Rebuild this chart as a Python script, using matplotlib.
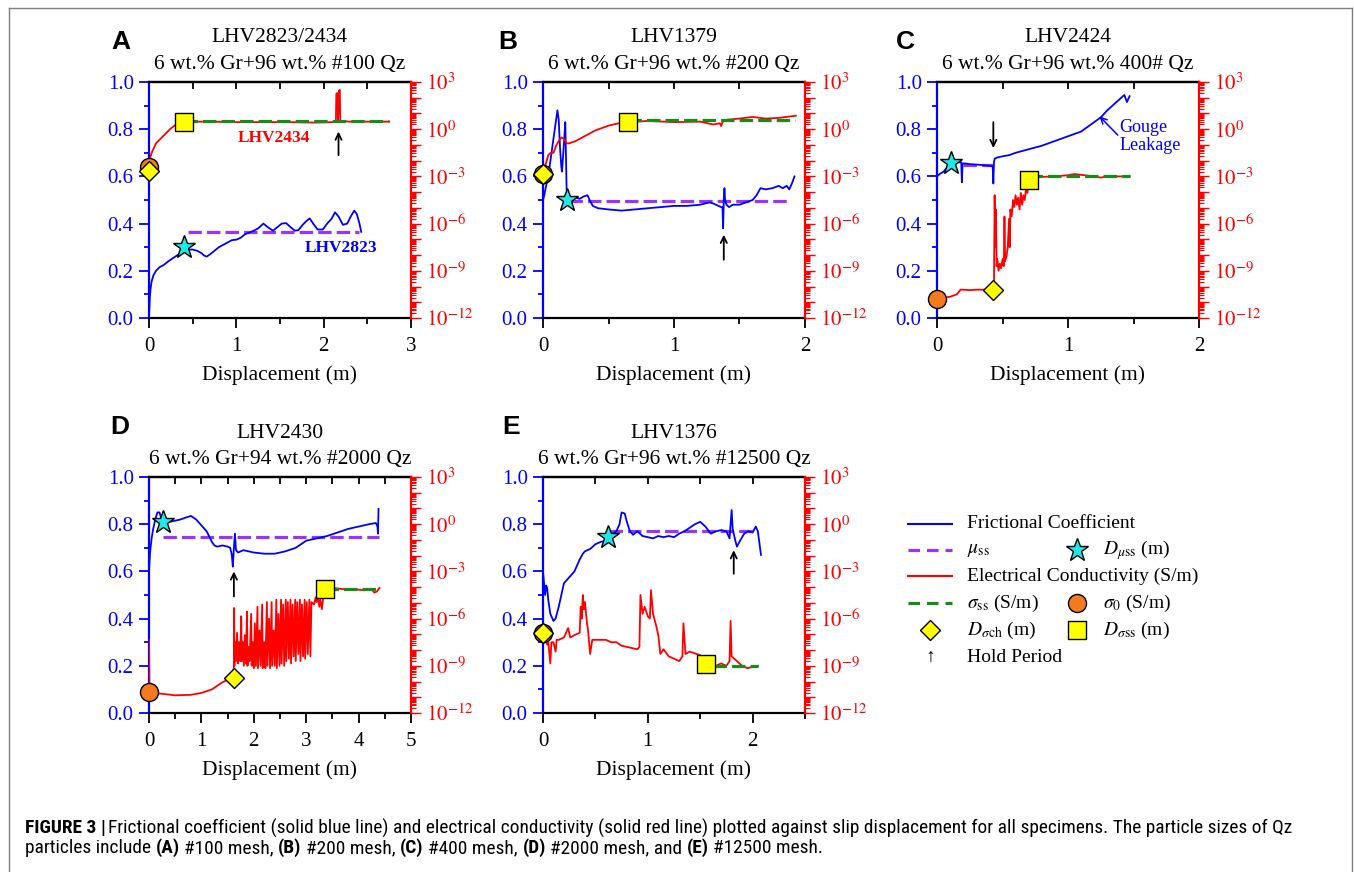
import matplotlib
matplotlib.use('Agg')
import matplotlib.pyplot as plt
import numpy as np
from matplotlib.lines import Line2D
from matplotlib.ticker import MultipleLocator, FixedLocator, FuncFormatter, NullFormatter, FormatStrFormatter
from matplotlib import font_manager

plt.rcParams['font.family'] = ['Liberation Serif', 'DejaVu Serif']
plt.rcParams['mathtext.fontset'] = 'stix'

W, H = 1354, 872
fig = plt.figure(figsize=(W / 100, H / 100), dpi=100)

BLUE = '#0000FF'; RED = '#FF0000'; PURPLE = '#9933FF'; GREEN = '#1A8A1A'
ORANGE = '#F47A1F'; YELLOW = '#FFFF00'; CYAN = '#1DE9E9'

# ---------------- data: panel A (LHV2823 friction / LHV2434 conductivity) -------------
a_mu_x = [0, 0.005, 0.01, 0.02, 0.03, 0.05, 0.08, 0.12, 0.17, 0.22, 0.28, 0.34, 0.4, 0.45, 0.5, 0.55,
          0.6, 0.63, 0.66, 0.7, 0.75, 0.8, 0.85, 0.9, 0.95, 1.0, 1.05, 1.1, 1.15, 1.2, 1.25, 1.31,
          1.36, 1.42, 1.47, 1.52, 1.57, 1.62, 1.67, 1.71, 1.76, 1.8, 1.84, 1.88, 1.93, 1.99, 2.04,
          2.09, 2.13, 2.17, 2.22, 2.27, 2.31, 2.35, 2.38, 2.41, 2.43]
a_mu = [0.0, 0.05, 0.09, 0.13, 0.155, 0.18, 0.2, 0.215, 0.225, 0.24, 0.255, 0.27, 0.29, 0.29, 0.29,
        0.285, 0.275, 0.265, 0.26, 0.27, 0.285, 0.3, 0.31, 0.32, 0.33, 0.332, 0.34, 0.355, 0.362,
        0.37, 0.38, 0.40, 0.385, 0.37, 0.385, 0.40, 0.402, 0.385, 0.37, 0.372, 0.395, 0.41, 0.422,
        0.40, 0.375, 0.375, 0.40, 0.42, 0.448, 0.43, 0.395, 0.40, 0.43, 0.455, 0.44, 0.40, 0.365]
a_sig_x = [0, 0.01, 0.03, 0.08, 0.16, 0.24, 0.31, 0.36, 0.4, 0.7, 1.0, 1.3, 1.6, 1.9, 2.1, 2.14,
           2.145, 2.155, 2.16, 2.165, 2.175, 2.185, 2.19, 2.3, 2.5, 2.75]
a_sig_log = [-2.4, -1.9, -1.5, -0.9, -0.45, 0.0, 0.3, 0.42, 0.48, 0.48, 0.45, 0.45, 0.45, 0.42, 0.45,
             0.45, 2.25, 2.3, 2.2, 0.6, 2.45, 2.5, 0.52, 0.48, 0.48, 0.48]

# ---------------- panel B (LHV1379) ----------------
b_mu_x = [0, 0.01, 0.02, 0.04, 0.06, 0.08, 0.1, 0.11, 0.12, 0.13, 0.14, 0.145, 0.15, 0.16, 0.17,
          0.175, 0.18, 0.19, 0.22, 0.25, 0.28, 0.31, 0.34, 0.36, 0.38, 0.42, 0.5, 0.6, 0.7, 0.8,
          0.9, 1.0, 1.1, 1.2, 1.27, 1.3, 1.34, 1.36, 1.37, 1.375, 1.38, 1.385, 1.39, 1.4, 1.42,
          1.45, 1.5, 1.55, 1.6, 1.63, 1.66, 1.7, 1.75, 1.8, 1.83, 1.86, 1.88, 1.9, 1.92]
b_mu = [0.50, 0.52, 0.55, 0.60, 0.68, 0.76, 0.84, 0.88, 0.84, 0.72, 0.64, 0.62, 0.66, 0.74, 0.83,
        0.70, 0.55, 0.50, 0.50, 0.51, 0.505, 0.515, 0.52, 0.495, 0.475, 0.465, 0.46, 0.455, 0.46,
        0.465, 0.47, 0.475, 0.475, 0.48, 0.49, 0.485, 0.475, 0.47, 0.47, 0.38, 0.50, 0.55, 0.50,
        0.48, 0.47, 0.48, 0.48, 0.49, 0.50, 0.52, 0.55, 0.545, 0.55, 0.56, 0.55, 0.56, 0.545,
        0.57, 0.60]
b_sig_x = [0, 0.02, 0.04, 0.06, 0.08, 0.1, 0.12, 0.14, 0.16, 0.18, 0.2, 0.25, 0.3, 0.4, 0.5, 0.6,
           0.65, 0.8, 1.0, 1.2, 1.3, 1.35, 1.36, 1.37, 1.4, 1.5, 1.6, 1.7, 1.8, 1.9, 1.93]
b_sig_log = [-2.85, -2.25, -1.65, -1.5, -1.5, -1.05, -0.75, -0.525, -0.6, -0.9, -0.9, -0.75,
             -0.525, -0.075, 0.225, 0.42, 0.45, 0.525, 0.45, 0.48, 0.3, 0.375, 0.2, 0.45, 0.6,
             0.675, 0.78, 0.675, 0.72, 0.825, 0.855]

# ---------------- panel C (LHV2424) ----------------
c_mu_x = [0, 0.02, 0.05, 0.08, 0.11, 0.14, 0.17, 0.185, 0.19, 0.195, 0.21, 0.25, 0.3, 0.35, 0.4,
          0.425, 0.43, 0.435, 0.44, 0.46, 0.5, 0.55, 0.6, 0.7, 0.8, 0.9, 1.0, 1.05, 1.1, 1.15,
          1.2, 1.25, 1.3, 1.35, 1.4, 1.43, 1.45, 1.47]
c_mu = [0.60, 0.61, 0.62, 0.64, 0.655, 0.66, 0.66, 0.66, 0.575, 0.655, 0.655, 0.652, 0.65, 0.648,
        0.645, 0.643, 0.57, 0.66, 0.675, 0.68, 0.685, 0.69, 0.70, 0.715, 0.73, 0.75, 0.77, 0.78,
        0.79, 0.81, 0.83, 0.85, 0.88, 0.905, 0.93, 0.945, 0.915, 0.94]
c_sig_x = [0, 0.05, 0.1, 0.15, 0.18, 0.2, 0.25, 0.3, 0.35, 0.43, 0.435, 0.44, 0.445, 0.45, 0.455,
           0.46, 0.47, 0.48, 0.49, 0.5, 0.51, 0.515, 0.52, 0.53, 0.54, 0.55, 0.555, 0.56, 0.57,
           0.58, 0.59, 0.6, 0.61, 0.62, 0.63, 0.64, 0.65, 0.66, 0.67, 0.68, 0.69, 0.7, 0.75, 0.8,
           0.9, 1.0, 1.05, 1.1, 1.2, 1.25, 1.3, 1.4, 1.47]
c_sig_log = [-10.8, -10.725, -10.65, -10.5, -10.2, -10.2, -10.23, -10.2, -10.2, -10.2, -9.9, -4.2,
             -7.5, -5.1, -8.7, -8.25, -9.0, -8.55, -8.85, -8.25, -8.7, -5.55, -8.4, -8.1, -7.5,
             -5.7, -7.5, -5.1, -5.55, -4.5, -4.95, -4.2, -4.8, -4.35, -5.1, -4.05, -4.8, -4.2,
             -4.5, -3.75, -4.05, -3.225, -3.0, -3.03, -3.0, -2.925, -2.85, -2.9, -3.0, -3.075,
             -3.0, -3.0, -3.0]

# ---------------- panel D (LHV2430) ----------------
d_mu_x = [0, 0.02, 0.05, 0.08, 0.12, 0.16, 0.2, 0.24, 0.3, 0.4, 0.5, 0.6, 0.7, 0.8, 0.9, 1.0, 1.1,
          1.2, 1.25, 1.3, 1.4, 1.5, 1.55, 1.58, 1.6, 1.62, 1.64, 1.66, 1.7, 1.8, 1.9, 2.0, 2.2,
          2.4, 2.6, 2.8, 3.0, 3.2, 3.4, 3.6, 3.8, 4.0, 4.2, 4.33, 4.36, 4.37, 4.38]
d_mu = [0.60, 0.68, 0.74, 0.78, 0.82, 0.85, 0.85, 0.82, 0.81, 0.81, 0.815, 0.82, 0.828, 0.835,
        0.82, 0.795, 0.77, 0.725, 0.71, 0.705, 0.71, 0.705, 0.70, 0.67, 0.62, 0.70, 0.76, 0.69,
        0.68, 0.69, 0.685, 0.68, 0.675, 0.675, 0.685, 0.70, 0.73, 0.74, 0.75, 0.765, 0.78, 0.79,
        0.80, 0.805, 0.79, 0.76, 0.865]
d_sig_x = [0, 0.01, 0.1, 0.3, 0.5, 0.8, 1.0, 1.2, 1.3, 1.4, 1.5, 1.6, 1.62, 1.625, 1.63, 1.64,
           1.66, 1.68, 1.70, 1.72, 1.74, 1.76, 1.77, 1.79, 1.81, 1.83, 1.85, 1.87, 1.88, 1.90,
           1.92, 1.95, 1.96, 1.98, 2.00, 2.02, 2.04, 2.07, 2.08, 2.11, 2.13, 2.16, 2.17, 2.20,
           2.22, 2.25, 2.26, 2.29, 2.31, 2.34, 2.35, 2.38, 2.40, 2.43, 2.44, 2.47, 2.49, 2.52,
           2.53, 2.56, 2.58, 2.61, 2.62, 2.65, 2.67, 2.70, 2.71, 2.74, 2.76, 2.79, 2.80, 2.83,
           2.85, 2.88, 2.89, 2.92, 2.94, 2.97, 2.98, 3.01, 3.03, 3.06, 3.08, 3.10, 3.15, 3.18,
           3.2, 3.22, 3.25, 3.27, 3.3, 3.33, 3.35, 3.5, 3.7, 3.9, 4.1, 4.25, 4.3, 4.35, 4.38, 4.4]
d_sig_log = [-7.35, -10.65, -10.725, -10.8, -10.875, -10.845, -10.725, -10.5, -10.275, -10.05,
             -9.9, -9.75, -9.0, -5.325, -9.0, -7.5, -8.7, -6.9, -8.85, -7.5, -8.7, -5.85, -8.7,
             -7.5, -9.0, -7.05, -8.85, -5.55, -9.0, -7.8, -8.7, -5.7, -9.0, -7.5, -9.15, -6.3,
             -9.0, -5.25, -9.15, -6.75, -9.0, -5.1, -9.15, -7.5, -9.15, -4.95, -9.0, -6.0, -9.15,
             -4.95, -9.0, -6.75, -9.0, -4.8, -9.15, -5.7, -9.0, -4.8, -8.85, -5.1, -9.0, -4.8,
             -8.7, -4.95, -8.55, -4.8, -8.85, -5.1, -8.4, -4.8, -8.7, -4.95, -8.25, -4.8, -8.7,
             -5.1, -8.4, -4.8, -8.55, -4.95, -8.25, -4.8, -8.4, -4.95, -5.1, -4.65, -4.95, -4.5,
             -5.25, -4.8, -5.4, -4.5, -4.125, -4.05, -4.125, -4.125, -4.2, -4.125, -4.35, -4.275,
             -4.125, -4.05]

# ---------------- panel E (LHV1376) ----------------
e_mu_x = [0, 0.01, 0.02, 0.03, 0.04, 0.05, 0.07, 0.1, 0.12, 0.15, 0.2, 0.25, 0.3, 0.35, 0.38, 0.4,
          0.45, 0.5, 0.55, 0.6, 0.63, 0.67, 0.7, 0.73, 0.75, 0.78, 0.8, 0.83, 0.86, 0.9, 0.95,
          1.0, 1.05, 1.1, 1.15, 1.2, 1.25, 1.3, 1.35, 1.4, 1.45, 1.5, 1.55, 1.6, 1.65, 1.7, 1.75,
          1.78, 1.8, 1.81, 1.83, 1.85, 1.88, 1.92, 1.96, 2.0, 2.03, 2.05, 2.08]
e_mu = [0.60, 0.55, 0.50, 0.54, 0.53, 0.48, 0.42, 0.39, 0.40, 0.45, 0.55, 0.575, 0.60, 0.65,
        0.675, 0.685, 0.695, 0.715, 0.725, 0.73, 0.745, 0.76, 0.77, 0.80, 0.85, 0.845, 0.81,
        0.77, 0.755, 0.77, 0.75, 0.745, 0.74, 0.75, 0.745, 0.75, 0.745, 0.76, 0.77, 0.785, 0.80,
        0.81, 0.79, 0.76, 0.77, 0.775, 0.77, 0.74, 0.86, 0.78, 0.74, 0.705, 0.73, 0.76, 0.77,
        0.765, 0.79, 0.77, 0.67]
e_sig_x = [0, 0.02, 0.04, 0.05, 0.07, 0.08, 0.1, 0.12, 0.13, 0.15, 0.2, 0.24, 0.26, 0.3, 0.35,
           0.36, 0.37, 0.38, 0.39, 0.4, 0.42, 0.43, 0.45, 0.47, 0.5, 0.6, 0.65, 0.7, 0.75, 0.8,
           0.85, 0.9, 0.92, 0.93, 0.95, 0.97, 1.0, 1.02, 1.03, 1.05, 1.08, 1.1, 1.12, 1.15, 1.2,
           1.25, 1.3, 1.33, 1.34, 1.36, 1.4, 1.5, 1.55, 1.6, 1.65, 1.7, 1.75, 1.78, 1.79, 1.8,
           1.85, 1.9, 1.95, 2.0, 2.05]
e_sig_log = [-6.9, -7.35, -7.65, -7.5, -8.85, -7.5, -7.5, -8.1, -7.35, -7.35, -7.2, -6.6, -7.2,
             -7.05, -6.9, -5.25, -6.0, -4.5, -5.4, -4.95, -6.3, -6.75, -8.25, -7.35, -7.35,
             -7.35, -7.5, -7.5, -7.725, -7.8, -7.875, -7.95, -7.8, -4.5, -5.7, -5.25, -5.85,
             -6.0, -4.2, -5.7, -6.45, -7.05, -8.25, -7.95, -8.4, -8.55, -8.7, -8.4, -6.3, -8.25,
             -8.1, -8.325, -8.55, -8.85, -9.0, -8.85, -9.0, -8.7, -6.15, -8.4, -8.7, -9.0, -9.15,
             -9.075, -9.0]

# steady-state levels: (mu_ss, x_start, x_end), (log sigma_ss, x_start, x_end)
a_mu_ss = (0.365, 0.45, 2.4);  a_sig_ss = (0.5, 0.4, 2.75)
b_mu_ss = (0.494, 0.2, 1.88);  b_sig_ss = (0.6, 0.65, 1.92)
c_mu_ss = (0.648, 0.2, 0.43);  c_sig_ss = (-3.0, 0.7, 1.47)
d_mu_ss = (0.745, 0.27, 4.38); d_sig_ss = (-4.1, 3.35, 4.4)
e_mu_ss = (0.77, 0.63, 2.0);   e_sig_ss = (-9.0, 1.62, 2.05)

# characteristic points: D_muss (x, mu); sigma0, D_sigch, D_sigss (x, log sigma)
a_pts = dict(star=(0.4, 0.30), circ=(0, -2.4), diam=(0, -2.63), sq=(0.4, 0.48))
b_pts = dict(star=(0.185, 0.50), circ=(0, -2.85), diam=(0, -2.85), sq=(0.65, 0.45))
c_pts = dict(star=(0.11, 0.655), circ=(0, -10.8), diam=(0.43, -10.2), sq=(0.7, -3.25))
d_pts = dict(star=(0.27, 0.81), circ=(0, -10.65), diam=(1.62, -9.8), sq=(3.35, -4.1))
e_pts = dict(star=(0.62, 0.745), circ=(0, -6.9), diam=(0, -6.9), sq=(1.56, -8.9))

# hold-period arrows: (x, mu_tail, mu_head)
a_hold = (2.17, 0.69, 0.79)
b_hold = (1.38, 0.247, 0.353)
c_hold = (0.43, 0.83, 0.72)
d_hold = (1.62, 0.494, 0.60)
e_hold = (1.82, 0.59, 0.69)

titles = ['LHV2823/2434', 'LHV1379', 'LHV2424', 'LHV2430', 'LHV1376']
subtitles = ['6 wt.% Gr+96 wt.% #100 Qz', '6 wt.% Gr+96 wt.% #200 Qz', '6 wt.% Gr+96 wt.% 400# Qz',
             '6 wt.% Gr+94 wt.% #2000 Qz', '6 wt.% Gr+96 wt.% #12500 Qz']
letters = ['A', 'B', 'C', 'D', 'E']
xmaxes = [3, 2, 2, 5, 2.5]

# ---------------- layout (pixels) ----------------
rects = [(149, 82, 411, 318), (543, 82, 805, 318), (937, 82, 1199, 318),
         (149, 477, 411, 713), (543, 477, 805, 713)]
letter_pos = [(121, 42), (508, 42), (905, 42), (120, 427), (511, 427)]


def fx(x):
    return x / W


def fy(y):
    return 1 - y / H


panels = [
    (a_mu_x, a_mu, a_sig_x, a_sig_log, a_mu_ss, a_sig_ss, a_pts, a_hold),
    (b_mu_x, b_mu, b_sig_x, b_sig_log, b_mu_ss, b_sig_ss, b_pts, b_hold),
    (c_mu_x, c_mu, c_sig_x, c_sig_log, c_mu_ss, c_sig_ss, c_pts, c_hold),
    (d_mu_x, d_mu, d_sig_x, d_sig_log, d_mu_ss, d_sig_ss, d_pts, d_hold),
    (e_mu_x, e_mu, e_sig_x, e_sig_log, e_mu_ss, e_sig_ss, e_pts, e_hold),
]

DASH = (0, (4.2, 1.6))
FS_TICK = 15
axes = []
for i, (mx, my, sx, sl, muss, sigss, pts, hold) in enumerate(panels):
    l, t, r, b = rects[i]
    ax = fig.add_axes([fx(l), fy(b), (r - l) / W, (b - t) / H])
    ax2 = ax.twinx()
    axes.append(ax)
    ax.set_xlim(0, xmaxes[i])
    ax.set_ylim(0, 1)
    ax2.set_yscale('log')
    ax2.set_ylim(1e-12, 1e3)

    # friction
    ax.plot(mx, my, color=BLUE, lw=1.3, zorder=3)
    ax.plot([muss[1], muss[2]], [muss[0], muss[0]], color=PURPLE, lw=2.3, ls=DASH, zorder=2)
    # conductivity
    ax2.plot(sx, 10.0 ** np.array(sl), color=RED, lw=1.3, zorder=3)
    ax2.plot([sigss[1], sigss[2]], [10.0 ** sigss[0]] * 2, color=GREEN, lw=2.3, ls=DASH, zorder=4)
    # markers
    ax2.plot(*pts['star'], marker='*', ms=17, mfc=CYAN, mec='k', mew=1.0, transform=ax.transData,
             zorder=6, clip_on=False)
    ax2.plot(pts['circ'][0], 10 ** pts['circ'][1], marker='o', ms=13, mfc=ORANGE, mec='k', mew=1.0,
             zorder=6, clip_on=False)
    ax2.plot(pts['diam'][0], 10 ** pts['diam'][1], marker='D', ms=10.5, mfc=YELLOW, mec='k', mew=1.0,
             zorder=7, clip_on=False)
    ax2.plot(pts['sq'][0], 10 ** pts['sq'][1], marker='s', ms=13, mfc=YELLOW, mec='k', mew=1.0,
             zorder=7, clip_on=False)
    # hold arrow
    ax2.annotate('', xy=(hold[0], hold[2]), xytext=(hold[0], hold[1]), xycoords=ax.transData,
                 textcoords=ax.transData,
                 arrowprops=dict(arrowstyle='->,head_length=0.45,head_width=0.22', lw=1.3, color='k',
                                 shrinkA=0, shrinkB=0), zorder=8)

    # spines
    for s in ['top', 'bottom', 'left']:
        ax2.spines[s].set_visible(False)
    ax.spines['right'].set_visible(False)
    ax.spines['left'].set_color(BLUE)
    ax2.spines['right'].set_color(RED)
    for s in ['left', 'top', 'bottom']:
        ax.spines[s].set_linewidth(1.6)
    ax2.spines['right'].set_linewidth(1.6)

    # left ticks
    ax.yaxis.set_major_locator(MultipleLocator(0.2))
    ax.yaxis.set_minor_locator(MultipleLocator(0.1))
    ax.yaxis.set_major_formatter(FormatStrFormatter('%.1f'))
    ax.tick_params(axis='y', which='both', colors=BLUE, direction='out', labelsize=FS_TICK, width=1.3)
    ax.tick_params(axis='y', which='major', length=7, pad=4)
    ax.tick_params(axis='y', which='minor', length=3.5)
    # bottom ticks
    ax.xaxis.set_major_locator(MultipleLocator(1))
    ax.xaxis.set_minor_locator(MultipleLocator(0.5))
    ax.tick_params(axis='x', which='both', direction='out', labelsize=FS_TICK, width=1.3)
    ax.tick_params(axis='x', which='major', length=7, pad=7)
    ax.tick_params(axis='x', which='minor', length=4)
    # top ticks (inward)
    sec = ax.secondary_xaxis('top')
    sec.xaxis.set_major_locator(MultipleLocator(0.5))
    sec.xaxis.set_major_formatter(NullFormatter())
    sec.tick_params(axis='x', which='major', direction='in', length=5, width=1.3)
    sec.spines['top'].set_linewidth(1.6)
    # right log ticks
    ax2.yaxis.set_major_locator(FixedLocator([10.0 ** k for k in range(-12, 4)]))
    minors = [m * 10.0 ** k for k in range(-12, 3) for m in range(2, 10)]
    ax2.yaxis.set_minor_locator(FixedLocator(minors))
    ax2.yaxis.set_minor_formatter(NullFormatter())

    def lab(v, pos):
        k = int(round(np.log10(v)))
        return r'$10^{%d}$' % k if k % 3 == 0 else ''
    ax2.yaxis.set_major_formatter(FuncFormatter(lab))
    ax2.tick_params(axis='y', which='both', colors=RED, direction='out', labelsize=FS_TICK, width=1.0)
    ax2.tick_params(axis='y', which='major', length=7, pad=4)
    ax2.tick_params(axis='y', which='minor', length=3.5, width=0.8)

    ax.set_xlabel('Displacement (m)', fontsize=15.5, labelpad=6)

    cx = (l + r) / 2
    fig.text(fx(cx), fy(t - 44), titles[i], ha='center', va='center', fontsize=15.5)
    fig.text(fx(cx), fy(t - 18), subtitles[i], ha='center', va='center', fontsize=15.5)
    fig.text(fx(letter_pos[i][0]), fy(letter_pos[i][1]), letters[i], ha='center', va='center',
             fontsize=19, fontweight='bold', family=['Liberation Sans', 'DejaVu Sans'])

# in-panel labels
axes[0].text(1.43, 0.762, 'LHV2434', color=RED, fontsize=12.5, fontweight='bold', ha='center', va='center')
axes[0].text(2.2, 0.297, 'LHV2823', color=BLUE, fontsize=12.5, fontweight='bold', ha='center', va='center')
axes[2].text(1.39, 0.77, 'Gouge\nLeakage', color=BLUE, fontsize=13, ha='left', va='center', linespacing=1.1)
axes[2].annotate('', xy=(1.24, 0.855), xytext=(1.38, 0.775),
                 arrowprops=dict(arrowstyle='->,head_length=0.45,head_width=0.22', lw=1.1, color=BLUE,
                                 shrinkA=0, shrinkB=0), zorder=8)

# ---------------- legend (manual, pixel layout) ----------------
rows = [524, 550, 576, 603, 630, 657]
lx0, lx1, mc1, tx1, mc2, tx2 = 908, 952, 930, 967, 1077, 1103
FS_LEG = 14


def hline(y, color, dashed):
    fig.add_artist(Line2D([fx(lx0), fx(lx1)], [fy(y), fy(y)], color=color,
                          lw=2.3 if dashed else 1.5, ls=(0, (3.6, 2.2)) if dashed else '-',
                          transform=fig.transFigure))


def mark(x, y, m, ms, fc):
    fig.add_artist(Line2D([fx(x)], [fy(y)], marker=m, ms=ms, mfc=fc, mec='k', mew=1.0, ls='none',
                          transform=fig.transFigure))


def ltext(x, y, s):
    fig.text(fx(x), fy(y), s, ha='left', va='center', fontsize=FS_LEG)


hline(rows[0], BLUE, False); ltext(tx1, rows[0], 'Frictional Coefficient')
hline(rows[1], PURPLE, True); ltext(tx1, rows[1], r'$\mu_{\rm ss}$')
mark(mc2, rows[1], '*', 17, CYAN); ltext(tx2, rows[1], r'$D_{\mu{\rm ss}}$ (m)')
hline(rows[2], RED, False); ltext(tx1, rows[2], 'Electrical Conductivity (S/m)')
hline(rows[3], GREEN, True); ltext(tx1, rows[3], r'$\sigma_{\rm ss}$ (S/m)')
mark(mc2, rows[3], 'o', 13, ORANGE); ltext(tx2, rows[3], r'$\sigma_0$ (S/m)')
mark(mc1, rows[4], 'D', 10.5, YELLOW); ltext(tx1, rows[4], r'$D_{\sigma{\rm ch}}$ (m)')
mark(mc2, rows[4], 's', 13, YELLOW); ltext(tx2, rows[4], r'$D_{\sigma{\rm ss}}$ (m)')
fig.text(fx(mc1), fy(rows[5]), '\u2191', ha='center', va='center', fontsize=FS_LEG,
         family=['Liberation Serif', 'DejaVu Serif'])
ltext(tx1, rows[5], 'Hold Period')

# ---------------- border ----------------
bc = '#7f7f7f'
fig.add_artist(Line2D([fx(8.5), fx(8.5)], [0, fy(8.5)], color=bc, lw=1.0, transform=fig.transFigure))
fig.add_artist(Line2D([fx(8.5), fx(1351.5)], [fy(8.5), fy(8.5)], color=bc, lw=1.0, transform=fig.transFigure))
fig.add_artist(Line2D([fx(1351.5), fx(1351.5)], [0, fy(8.5)], color=bc, lw=1.0, transform=fig.transFigure))

# ---------------- caption ----------------
names = {f.name for f in font_manager.fontManager.ttflist}
capfam = ['Liberation Sans']
for cand in ['Liberation Sans Narrow', 'Roboto Condensed', 'Open Sans Condensed', 'Noto Sans Condensed']:
    if cand in names:
        capfam = [cand, 'Liberation Sans']
        break
renderer = fig.canvas.get_renderer()

line1 = [('FIGURE 3', True, 4), ('|', True, 3),
         ('Frictional coefficient (solid blue line) and electrical conductivity (solid red line) plotted '
          'against slip displacement for all specimens. The particle sizes of Qz', False, 0)]
line2 = [('particles include', False, None), ('(A)', True, None), ('#100 mesh,', False, None),
         ('(B)', True, None), ('#200 mesh,', False, None), ('(C)', True, None),
         ('#400 mesh,', False, None), ('(D)', True, None), ('#2000 mesh, and', False, None),
         ('(E)', True, None), ('#12500 mesh.', False, None)]


def measure(s, bold, size):
    t = fig.text(0, 0, s, fontsize=size, fontweight='bold' if bold else 'normal', family=capfam)
    w = t.get_window_extent(renderer).width
    t.remove()
    return w


def space_w(size):
    return measure('a a', False, size) - measure('aa', False, size)


def draw_line(runs, x0, y, size):
    x = x0
    sw = space_w(size)
    for s, bold, gap in runs:
        t = fig.text(fx(x), fy(y), s, fontsize=size, fontweight='bold' if bold else 'normal',
                     family=capfam, ha='left', va='center')
        x += t.get_window_extent(renderer).width + (sw if gap is None else gap)
    return x


base = 12
w1 = sum(measure(s, b, base) for s, b, g in line1) + 7
cap_size = base * (1292 - 25) / w1
draw_line(line1, 25, 828, cap_size)
draw_line(line2, 25, 848, cap_size)

fig.savefig('out.png', dpi=100)
